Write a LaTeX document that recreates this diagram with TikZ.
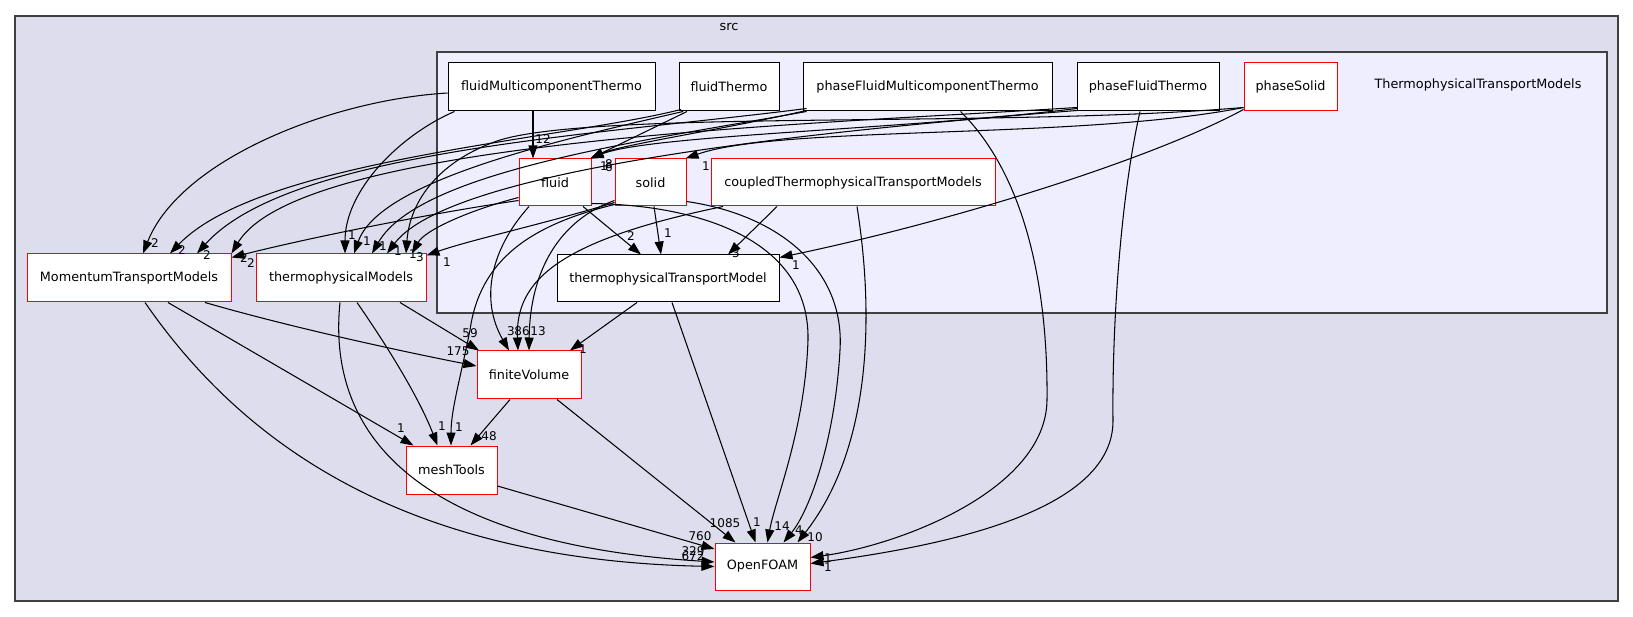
\documentclass[tikz,border=0pt]{standalone}
\usepackage{fontspec}
\setmainfont{DejaVu Sans}
\usetikzlibrary{arrows.meta}
\definecolor{outerfill}{HTML}{DDDDEE}
\definecolor{innerfill}{HTML}{EEEEFF}
\definecolor{clusterline}{HTML}{404040}
\begin{document}
\begin{tikzpicture}[x=1pt,y=-1pt,
  dn/.style={draw=black, fill=white, line width=1pt, minimum height=48pt, inner sep=0pt, font=\fontsize{12.8}{15}\selectfont},
  dnr/.style={dn, draw=red},
  cl/.style={font=\fontsize{12.8}{15}\selectfont, inner sep=0pt},
  lbl/.style={font=\fontsize{12}{13}\selectfont, inner sep=0pt},
  dep/.style={draw=black, line width=1.05pt, -{Triangle[length=13pt,width=9pt]}}
]
\useasboundingbox (0,0) rectangle (1633,617);
% clusters
\path[draw=clusterline, fill=outerfill, line width=1.2pt] (15,16) rectangle (1618,601);
\node[cl] (srclbl) at (729,27) {src};
\path[draw=clusterline, fill=innerfill, line width=1.2pt] (437,52) rectangle (1607,313);
\node[cl] (ttmlbl) at (1478,85) {ThermophysicalTransportModels};

% nodes
\node[dn, minimum width=207pt] (fMT) at (551.5,87) {fluidMulticomponentThermo};
\node[dn, minimum width=100pt] (fT) at (729,87) {fluidThermo};
\node[dn, minimum width=249pt] (pFMT) at (927.5,87) {phaseFluidMulticomponentThermo};
\node[dn, minimum width=142pt] (pFT) at (1148,87) {phaseFluidThermo};
\node[dnr, minimum width=93pt] (pS) at (1290.5,87) {phaseSolid};
\node[dnr, minimum width=72pt, minimum height=47pt] (fluid) at (555,182.5) {fluid};
\node[dnr, minimum width=71pt, minimum height=47pt] (solid) at (650.5,182.5) {solid};
\node[dnr, minimum width=284pt, minimum height=47pt] (coupled) at (853,182.5) {coupledThermophysicalTransportModels};
\node[dn, minimum width=222pt, minimum height=47pt] (tTM) at (668,278.5) {thermophysicalTransportModel};
\node[dnr, minimum width=204pt] (MTM) at (129,278) {MomentumTransportModels};
\node[dnr, minimum width=170pt] (tM) at (341,278) {thermophysicalModels};
\node[dnr, minimum width=104pt] (fV) at (529,375) {finiteVolume};
\node[dnr, minimum width=91pt] (mT) at (451.5,470) {meshTools};
\node[dnr, minimum width=95pt, minimum height=47pt] (OF) at (762.5,566.5) {OpenFOAM};

% fluidMulticomponentThermo
\draw[dep] ([yshift=-6pt]fMT.west) .. controls (330,100) and (180,160) .. ([xshift=14pt]MTM.north);
\draw[dep] ([xshift=-97pt]fMT.south) .. controls (400,135) and (345,190) .. ([xshift=4pt]tM.north);
\draw[dep] ([xshift=-18.5pt]fMT.south) -- ([xshift=-22pt]fluid.north);
% fluidThermo
\draw[dep] ([xshift=-42pt]fT.south) -- ([xshift=-1pt]fluid.north east);
\draw[dep] ([xshift=-48pt,yshift=2pt]fT.south) .. controls (560,140) and (260,160) .. ([xshift=41pt]MTM.north);
\draw[dep] ([xshift=-46pt]fT.south) .. controls (560,140) and (380,180) .. ([xshift=13pt]tM.north);
% phaseFluidMulticomponentThermo
\draw[dep] ([xshift=-121pt,yshift=1pt]pFMT.south) .. controls (720,130) and (620,145) .. ([xshift=-1pt]fluid.north east);
\draw[dep] ([xshift=-121pt,yshift=3pt]pFMT.south) .. controls (600,135) and (290,150) .. ([xshift=68pt]MTM.north);
\draw[dep] ([xshift=-121pt]pFMT.south) .. controls (650,140) and (420,170) .. ([xshift=31pt]tM.north);
\draw[dep] ([xshift=33pt]pFMT.south) .. controls (1030,180) and (1048,300) .. (1047,400) .. controls (1046,490) and (900,545) .. ([yshift=9pt]OF.east);
% phaseFluidThermo
\draw[dep] ([xshift=-71pt,yshift=3pt]pFT.south) .. controls (900,130) and (650,135) .. ([xshift=-1pt]fluid.north east);
\draw[dep] ([xshift=-71pt,yshift=4pt]pFT.south) .. controls (800,125) and (300,140) .. (MTM.north east);
\draw[dep] ([xshift=-71pt,yshift=1pt]pFT.south) .. controls (800,132) and (450,170) .. ([xshift=46pt]tM.north);
\draw[dep] ([xshift=-8pt]pFT.south) .. controls (1120,200) and (1112,330) .. (1113,420) .. controls (1114,510) and (950,545) .. ([yshift=3pt]OF.east);
% phaseSolid
\draw[dep] ([yshift=4pt]pS.south west) .. controls (1080,140) and (780,125) .. ([xshift=-1pt]solid.north east);
\draw[dep] ([yshift=4pt]pS.south west) .. controls (1000,128) and (600,110) .. (500,140) .. controls (440,160) and (410,200) .. ([xshift=65pt]tM.north);
\draw[dep] ([yshift=2pt]pS.south west) .. controls (1150,160) and (950,222) .. ([yshift=-3pt]tTM.north east);
% fluid
\draw[dep] ([yshift=6pt]fluid.south west) .. controls (420,215) and (300,240) .. ([yshift=-4pt]MTM.north east);
\draw[dep] ([yshift=9pt]fluid.south west) .. controls (470,210) and (425,230) .. ([xshift=71pt]tM.north);
\draw[dep] ([xshift=28pt]fluid.south) -- ([xshift=-27pt]tTM.north);
\draw[dep] ([xshift=-26pt]fluid.south) .. controls (490,250) and (480,300) .. ([xshift=-20pt]fV.north);
\draw[dep] ([yshift=3pt]fluid.south east) .. controls (700,205) and (810,240) .. (808,340) .. controls (805,430) and (775,500) .. ([xshift=5pt]OF.north);
% solid
\draw[dep] ([xshift=3.5pt]solid.south) -- ([xshift=-7pt]tTM.north);
\draw[dep] ([yshift=4pt]solid.south west) .. controls (540,225) and (470,240) .. ([yshift=-2pt]tM.north east);
\draw[dep] ([yshift=6pt]solid.south west) .. controls (560,220) and (530,270) .. (fV.north);
\draw[dep] ([yshift=2pt]solid.south west) .. controls (530,225) and (480,260) .. (470,330) .. controls (460,380) and (451,410) .. ([xshift=-0.5pt]mT.north);
\draw[dep] ([yshift=5pt]solid.south east) .. controls (780,215) and (845,270) .. (840,350) .. controls (835,440) and (810,510) .. ([xshift=21pt]OF.north);
% coupled
\draw[dep] ([xshift=-76pt]coupled.south) -- ([xshift=60pt]tTM.north);
\draw[dep] ([xshift=-130pt]coupled.south) .. controls (560,240) and (515,280) .. ([xshift=-11pt]fV.north);
\draw[dep] ([xshift=4pt]coupled.south) .. controls (875,320) and (870,450) .. ([xshift=35pt]OF.north);
% thermophysicalTransportModel
\draw[dep] ([xshift=-31pt]tTM.south) -- ([xshift=41pt]fV.north);
\draw[dep] ([xshift=4pt]tTM.south) -- ([xshift=-7pt]OF.north);
% MomentumTransportModels
\draw[dep] ([xshift=76pt]MTM.south) .. controls (300,330) and (420,355) .. ([yshift=9pt]fV.west);
\draw[dep] ([xshift=39pt]MTM.south) -- ([xshift=-38pt]mT.north);
\draw[dep] ([xshift=16pt]MTM.south) .. controls (240,440) and (400,560) .. (OF.west);
% thermophysicalModels
\draw[dep] ([xshift=59pt]tM.south) -- ([xshift=-50pt]fV.north);
\draw[dep] ([xshift=16pt]tM.south) .. controls (390,350) and (420,400) .. ([xshift=-14pt]mT.north);
\draw[dep] ([xshift=-1pt]tM.south) .. controls (325,450) and (440,545) .. ([yshift=4.5pt]OF.west);
% finiteVolume, meshTools
\draw[dep] ([xshift=-19pt]fV.south) -- ([xshift=19pt]mT.north);
\draw[dep] ([xshift=28pt]fV.south) -- ([xshift=-27pt]OF.north);
\draw[dep] ([yshift=-16pt]mT.east) -- ([yshift=17.5pt]OF.west);

% labels
\node[lbl] (L1) at (543,139) {12};
\node[lbl] (L2) at (604,166) {1};
\node[lbl] (L3) at (609,164) {8};
\node[lbl] (L4) at (609,167) {6};
\node[lbl] (L5) at (706,166) {1};
\node[lbl] (L6) at (155,243) {2};
\node[lbl] (L7) at (182,250) {2};
\node[lbl] (L8) at (207,255) {2};
\node[lbl] (L9) at (244,258) {2};
\node[lbl] (L10) at (251,263) {2};
\node[lbl] (L11) at (352,235) {1};
\node[lbl] (L12) at (367,241) {1};
\node[lbl] (L13) at (383,246) {1};
\node[lbl] (L14) at (398,251) {1};
\node[lbl] (L15) at (413,254) {1};
\node[lbl] (L16) at (420,257) {3};
\node[lbl] (L17) at (447,262) {1};
\node[lbl] (L18) at (631,236) {2};
\node[lbl] (L19) at (668,233) {1};
\node[lbl] (L20) at (736,253) {3};
\node[lbl] (L21) at (796,265) {1};
\node[lbl] (L22) at (470,333) {59};
\node[lbl] (L23) at (458,351) {175};
\node[lbl] (L24) at (511,331) {3};
\node[lbl] (L25) at (522,331) {86};
\node[lbl] (L26) at (538,331) {13};
\node[lbl] (L27) at (583,349) {1};
\node[lbl] (L28) at (401,428) {1};
\node[lbl] (L29) at (442,426) {1};
\node[lbl] (L30) at (459,427) {1};
\node[lbl] (L31) at (489,436) {48};
\node[lbl] (L32) at (725,523) {1085};
\node[lbl] (L33) at (757,522) {1};
\node[lbl] (L34) at (782,526) {14};
\node[lbl] (L35) at (799,530) {4};
\node[lbl] (L36) at (815,537) {10};
\node[lbl] (L37) at (700,536) {760};
\node[lbl] (L38) at (693,551) {329};
\node[lbl] (L39) at (693,556) {672};
\node[lbl] (L40) at (828,558) {1};
\node[lbl] (L41) at (828,567) {1};
\end{tikzpicture}
\end{document}
